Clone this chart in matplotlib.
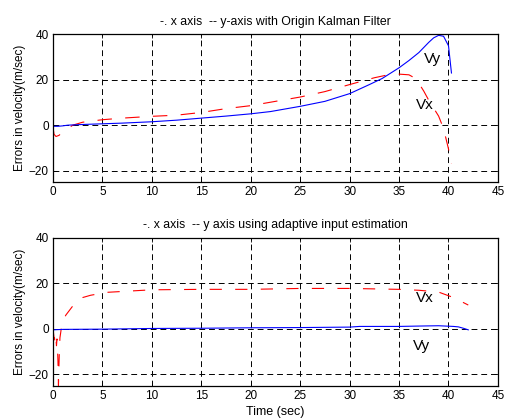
import matplotlib
matplotlib.use("Agg")
import matplotlib.pyplot as plt

plt.rcParams['font.family'] = ['Liberation Sans', 'DejaVu Sans']

# Upper panel: original Kalman filter velocity errors
t_kf_vx = [0, 0.1, 0.3, 0.6, 1, 1.5, 2, 3, 5, 7, 10, 12.5, 15, 17.5, 20, 22.5, 25,
           27.5, 30, 32.5, 34, 35, 36, 36.5, 37, 37.5, 38, 38.5, 39, 39.5, 40, 40.3]
vx_kf = [-1, -4, -5, -4.5, -3, -1.5, 0, 1.3, 2.4, 3.1, 3.9, 4.4, 5.6, 7.3, 8.6, 10.5, 12.4,
         14.8, 17.9, 20.9, 22.3, 22.5, 22.2, 21, 18.5, 15, 11, 7.5, 4, -1.5, -10.5, -17]

t_kf_vy = [0, 0.5, 1, 1.5, 2, 3, 5, 7, 10, 12.5, 15, 17.5, 20, 22, 25, 27.5, 30, 32,
           33.3, 35, 36, 37, 38, 38.5, 39, 39.5, 40, 40.3]
vy_kf = [-0.5, -0.5, -0.3, 0, 0.1, 0.3, 0.6, 0.9, 1.5, 2.2, 3.1, 4, 5, 6, 8.3, 10.5, 13.9, 17.9,
         20.6, 25.3, 28.5, 32, 36.5, 38.5, 39.6, 39.2, 35, 23]

# Lower panel: adaptive input estimation velocity errors
t_ai_vx = [0, 0.1, 0.15, 0.2, 0.25, 0.3, 0.35, 0.4, 0.45, 0.5, 0.55, 0.6, 0.65, 0.7, 0.8,
           0.9, 1.3, 2, 3, 3.8, 5.5, 10, 15, 20, 25, 30, 35, 37, 39, 40.5, 42]
vx_ai = [0, -4, -4, -7, -4.5, -4.5, -7.5, -4.5, -8, -14.5, -25, -16, -9, -4, -1,
         2.6, 6, 10, 13.7, 14.7, 16, 17.1, 17.3, 17.3, 17.7, 17.7, 17.3, 16.9, 16.1, 13.7, 10.4]

t_ai_vy = [0, 1, 5, 10, 15, 20, 25, 30, 31, 35, 37.5, 39, 40.5, 41, 41.5, 42]
vy_ai = [-0.5, -0.3, -0.2, 0.1, 0.2, 0.4, 0.5, 0.7, 1, 1, 1.2, 1.3, 1, 0.8, 0.2, -0.5]

x_ticks = [0, 5, 10, 15, 20, 25, 30, 35, 40, 45]
y_ticks = [-20, 0, 20, 40]

RED = (1, 0, 0)
BLUE = (0, 0, 1)
FS = 8.5

fig = plt.figure(figsize=(5.05, 4.2), dpi=100)
ax1 = fig.add_axes([0.105, 0.567, 0.881, 0.351])
ax2 = fig.add_axes([0.105, 0.082, 0.881, 0.352])


def style(ax, title):
    ax.set_xlim(0, 45)
    ax.set_ylim(-25, 40)
    ax.set_xticks(x_ticks)
    ax.set_yticks(y_ticks)
    ax.tick_params(direction='in', length=3, labelsize=FS, top=True, right=True,
                   width=0.6, pad=3)
    ax.grid(True, color='black', linestyle=(0, (6, 4)), linewidth=0.7)
    for s in ax.spines.values():
        s.set_linewidth(0.9)
    ax.set_title(title, fontsize=8.8, pad=7)
    ax.set_ylabel('Errors in velocity(m/sec)', fontsize=FS, labelpad=2)


style(ax1, '-. x axis  -- y-axis with Origin Kalman Filter')
ax1.plot(t_kf_vx, vx_kf, color=RED, linewidth=0.8, linestyle=(0, (13, 12)))
ax1.plot(t_kf_vy, vy_kf, color=BLUE, linewidth=0.8)
ax1.text(38.4, 29, 'Vy', fontsize=11, ha='center', va='center')
ax1.text(37.6, 9, 'Vx', fontsize=11, ha='center', va='center')

style(ax2, '-. x axis  -- y axis using adaptive input estimation')
ax2.plot(t_ai_vx, vx_ai, color=RED, linewidth=0.8, linestyle=(0, (11, 12)))
ax2.plot(t_ai_vy, vy_ai, color=BLUE, linewidth=0.8)
ax2.text(37.6, 13.4, 'Vx', fontsize=11, ha='center', va='center')
ax2.text(37.3, -7.5, 'Vy', fontsize=11, ha='center', va='center')
ax2.set_xlabel('Time (sec)', fontsize=FS + 0.5, labelpad=3)

fig.savefig('out.png', dpi=100)
